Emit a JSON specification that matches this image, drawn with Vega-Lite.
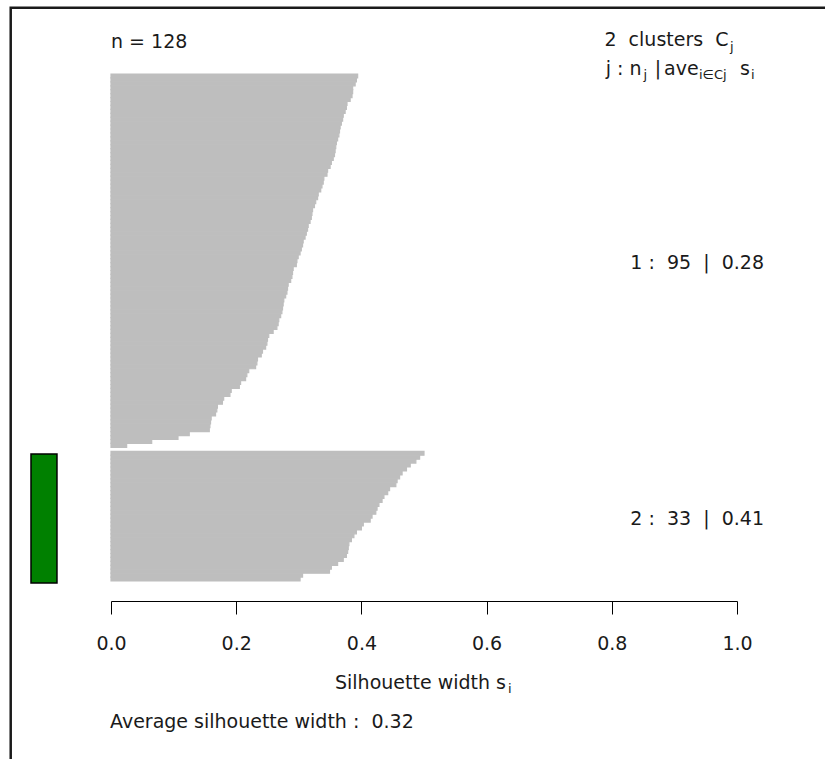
{
  "$schema": "https://vega.github.io/schema/vega-lite/v6.json",
  "width": 626,
  "height": 507,
  "autosize": {"type": "none"},
  "padding": {"left": 111, "top": 74, "right": 88, "bottom": 178},
  "background": "white",
  "config": {
    "view": {"stroke": null},
    "text": {"font": "DejaVu Sans", "fontSize": 19, "fill": "#1a1a1a", "baseline": "alphabetic"}
  },
  "datasets": {
    "silhouette": [
      {"row": 1, "cluster": 1, "s": 0.394}, {"row": 2, "cluster": 1, "s": 0.392}, {"row": 3, "cluster": 1, "s": 0.390},
      {"row": 4, "cluster": 1, "s": 0.386}, {"row": 5, "cluster": 1, "s": 0.386}, {"row": 6, "cluster": 1, "s": 0.385},
      {"row": 7, "cluster": 1, "s": 0.382}, {"row": 8, "cluster": 1, "s": 0.377}, {"row": 9, "cluster": 1, "s": 0.376},
      {"row": 10, "cluster": 1, "s": 0.374}, {"row": 11, "cluster": 1, "s": 0.371}, {"row": 12, "cluster": 1, "s": 0.370},
      {"row": 13, "cluster": 1, "s": 0.368}, {"row": 14, "cluster": 1, "s": 0.366}, {"row": 15, "cluster": 1, "s": 0.365},
      {"row": 16, "cluster": 1, "s": 0.364}, {"row": 17, "cluster": 1, "s": 0.362}, {"row": 18, "cluster": 1, "s": 0.360},
      {"row": 19, "cluster": 1, "s": 0.359}, {"row": 20, "cluster": 1, "s": 0.358}, {"row": 21, "cluster": 1, "s": 0.357},
      {"row": 22, "cluster": 1, "s": 0.355}, {"row": 23, "cluster": 1, "s": 0.352}, {"row": 24, "cluster": 1, "s": 0.350},
      {"row": 25, "cluster": 1, "s": 0.346}, {"row": 26, "cluster": 1, "s": 0.345}, {"row": 27, "cluster": 1, "s": 0.340},
      {"row": 28, "cluster": 1, "s": 0.339}, {"row": 29, "cluster": 1, "s": 0.337}, {"row": 30, "cluster": 1, "s": 0.335},
      {"row": 31, "cluster": 1, "s": 0.331}, {"row": 32, "cluster": 1, "s": 0.330}, {"row": 33, "cluster": 1, "s": 0.327},
      {"row": 34, "cluster": 1, "s": 0.325}, {"row": 35, "cluster": 1, "s": 0.322}, {"row": 36, "cluster": 1, "s": 0.321},
      {"row": 37, "cluster": 1, "s": 0.320}, {"row": 38, "cluster": 1, "s": 0.318}, {"row": 39, "cluster": 1, "s": 0.315},
      {"row": 40, "cluster": 1, "s": 0.314}, {"row": 41, "cluster": 1, "s": 0.312}, {"row": 42, "cluster": 1, "s": 0.310},
      {"row": 43, "cluster": 1, "s": 0.307}, {"row": 44, "cluster": 1, "s": 0.306}, {"row": 45, "cluster": 1, "s": 0.304},
      {"row": 46, "cluster": 1, "s": 0.302}, {"row": 47, "cluster": 1, "s": 0.299}, {"row": 48, "cluster": 1, "s": 0.297},
      {"row": 49, "cluster": 1, "s": 0.296}, {"row": 50, "cluster": 1, "s": 0.291}, {"row": 51, "cluster": 1, "s": 0.290},
      {"row": 52, "cluster": 1, "s": 0.289}, {"row": 53, "cluster": 1, "s": 0.287}, {"row": 54, "cluster": 1, "s": 0.283},
      {"row": 55, "cluster": 1, "s": 0.282}, {"row": 56, "cluster": 1, "s": 0.281}, {"row": 57, "cluster": 1, "s": 0.279},
      {"row": 58, "cluster": 1, "s": 0.276}, {"row": 59, "cluster": 1, "s": 0.275}, {"row": 60, "cluster": 1, "s": 0.274},
      {"row": 61, "cluster": 1, "s": 0.273}, {"row": 62, "cluster": 1, "s": 0.271}, {"row": 63, "cluster": 1, "s": 0.268},
      {"row": 64, "cluster": 1, "s": 0.267}, {"row": 65, "cluster": 1, "s": 0.265}, {"row": 66, "cluster": 1, "s": 0.259},
      {"row": 67, "cluster": 1, "s": 0.252}, {"row": 68, "cluster": 1, "s": 0.250}, {"row": 69, "cluster": 1, "s": 0.249},
      {"row": 70, "cluster": 1, "s": 0.247}, {"row": 71, "cluster": 1, "s": 0.242}, {"row": 72, "cluster": 1, "s": 0.240},
      {"row": 73, "cluster": 1, "s": 0.234}, {"row": 74, "cluster": 1, "s": 0.233}, {"row": 75, "cluster": 1, "s": 0.231},
      {"row": 76, "cluster": 1, "s": 0.220}, {"row": 77, "cluster": 1, "s": 0.217}, {"row": 78, "cluster": 1, "s": 0.215},
      {"row": 79, "cluster": 1, "s": 0.207}, {"row": 80, "cluster": 1, "s": 0.205}, {"row": 81, "cluster": 1, "s": 0.192},
      {"row": 82, "cluster": 1, "s": 0.190}, {"row": 83, "cluster": 1, "s": 0.180}, {"row": 84, "cluster": 1, "s": 0.178},
      {"row": 85, "cluster": 1, "s": 0.170}, {"row": 86, "cluster": 1, "s": 0.169}, {"row": 87, "cluster": 1, "s": 0.167},
      {"row": 88, "cluster": 1, "s": 0.160}, {"row": 89, "cluster": 1, "s": 0.159}, {"row": 90, "cluster": 1, "s": 0.158},
      {"row": 91, "cluster": 1, "s": 0.157}, {"row": 92, "cluster": 1, "s": 0.125}, {"row": 93, "cluster": 1, "s": 0.107},
      {"row": 94, "cluster": 1, "s": 0.065}, {"row": 95, "cluster": 1, "s": 0.025},
      {"row": 97, "cluster": 2, "s": 0.500}, {"row": 98, "cluster": 2, "s": 0.493}, {"row": 99, "cluster": 2, "s": 0.487},
      {"row": 100, "cluster": 2, "s": 0.478}, {"row": 101, "cluster": 2, "s": 0.472}, {"row": 102, "cluster": 2, "s": 0.465},
      {"row": 103, "cluster": 2, "s": 0.461}, {"row": 104, "cluster": 2, "s": 0.457}, {"row": 105, "cluster": 2, "s": 0.455},
      {"row": 106, "cluster": 2, "s": 0.445}, {"row": 107, "cluster": 2, "s": 0.442}, {"row": 108, "cluster": 2, "s": 0.436},
      {"row": 109, "cluster": 2, "s": 0.433}, {"row": 110, "cluster": 2, "s": 0.428}, {"row": 111, "cluster": 2, "s": 0.425},
      {"row": 112, "cluster": 2, "s": 0.423}, {"row": 113, "cluster": 2, "s": 0.417}, {"row": 114, "cluster": 2, "s": 0.414},
      {"row": 115, "cluster": 2, "s": 0.403}, {"row": 116, "cluster": 2, "s": 0.400}, {"row": 117, "cluster": 2, "s": 0.392},
      {"row": 118, "cluster": 2, "s": 0.388}, {"row": 119, "cluster": 2, "s": 0.384}, {"row": 120, "cluster": 2, "s": 0.380},
      {"row": 121, "cluster": 2, "s": 0.379}, {"row": 122, "cluster": 2, "s": 0.378}, {"row": 123, "cluster": 2, "s": 0.376},
      {"row": 124, "cluster": 2, "s": 0.371}, {"row": 125, "cluster": 2, "s": 0.362}, {"row": 126, "cluster": 2, "s": 0.352},
      {"row": 127, "cluster": 2, "s": 0.349}, {"row": 128, "cluster": 2, "s": 0.306}, {"row": 129, "cluster": 2, "s": 0.302}
    ]
  },
  "resolve": {"scale": {"y": "independent"}, "axis": {"x": "independent"}},
  "layer": [
    {
      "data": {"name": "silhouette"},
      "mark": {"type": "bar", "color": "#bebebe", "stroke": "#bebebe", "strokeWidth": 1.2},
      "encoding": {
        "x": {
          "field": "s", "type": "quantitative",
          "scale": {"domain": [0, 1], "nice": false},
          "axis": {
            "orient": "bottom", "offset": 20, "values": [0, 0.2, 0.4, 0.6, 0.8, 1], "format": ".1f",
            "tickSize": 13, "tickColor": "#000", "tickWidth": 1, "domainColor": "#000", "domainWidth": 1,
            "labelFont": "DejaVu Sans", "labelFontSize": 19, "labelColor": "#1a1a1a", "labelPadding": 20,
            "labelFlush": false, "labelOverlap": false, "grid": false, "title": null
          }
        },
        "y": {
          "field": "row", "type": "ordinal",
          "scale": {
            "domain": [1,2,3,4,5,6,7,8,9,10,11,12,13,14,15,16,17,18,19,20,21,22,23,24,25,26,27,28,29,30,31,32,33,34,35,36,37,38,39,40,41,42,43,44,45,46,47,48,49,50,51,52,53,54,55,56,57,58,59,60,61,62,63,64,65,66,67,68,69,70,71,72,73,74,75,76,77,78,79,80,81,82,83,84,85,86,87,88,89,90,91,92,93,94,95,96,97,98,99,100,101,102,103,104,105,106,107,108,109,110,111,112,113,114,115,116,117,118,119,120,121,122,123,124,125,126,127,128,129],
            "paddingInner": 0, "paddingOuter": 0
          },
          "axis": null
        }
      }
    },
    {
      "data": {"values": [{}]},
      "mark": {"type": "rect", "fillOpacity": 0, "stroke": "#1a1a1a", "strokeWidth": 2.5},
      "encoding": {
        "x": {"datum": -0.1602, "type": "quantitative", "scale": {"domain": [0, 1]}, "axis": null},
        "x2": {"datum": 2},
        "y": {"datum": -16.87, "type": "quantitative", "scale": {"domain": [0, 129], "reverse": true}, "axis": null},
        "y2": {"datum": 250}
      }
    },
    {
      "data": {"values": [{"cluster": 2}]},
      "mark": {"type": "rect", "fill": "#008000", "stroke": "#000", "strokeWidth": 1.5},
      "encoding": {
        "x": {"datum": -0.1278, "type": "quantitative", "scale": {"domain": [0, 1]}, "axis": null},
        "x2": {"datum": -0.0863},
        "y": {"datum": 96.7, "type": "quantitative", "scale": {"domain": [0, 129], "reverse": true}, "axis": null},
        "y2": {"datum": 129.5}
      }
    },
    {
      "data": {"values": [{"t": "n = 128"}]},
      "mark": {"type": "text", "align": "left"},
      "encoding": {
        "text": {"field": "t"},
        "x": {"datum": 0, "type": "quantitative", "scale": {"domain": [0, 1]}, "axis": null},
        "y": {"datum": -6.5, "type": "quantitative", "scale": {"domain": [0, 129], "reverse": true}, "axis": null}
      }
    },
    {
      "data": {"values": [{"t": "2\u00a0\u00a0clusters\u00a0\u00a0C"}]},
      "mark": {"type": "text", "align": "right"},
      "encoding": {
        "text": {"field": "t"},
        "x": {"datum": 0.9864, "type": "quantitative", "scale": {"domain": [0, 1]}, "axis": null},
        "y": {"datum": -7.0, "type": "quantitative", "scale": {"domain": [0, 129], "reverse": true}, "axis": null}
      }
    },
    {
      "data": {"values": [{"t": "j"}]},
      "mark": {"type": "text", "align": "left", "fontSize": 13},
      "encoding": {
        "text": {"field": "t"},
        "x": {"datum": 0.9888, "type": "quantitative", "scale": {"domain": [0, 1]}, "axis": null},
        "y": {"datum": -5.85, "type": "quantitative", "scale": {"domain": [0, 129], "reverse": true}, "axis": null}
      }
    },
    {
      "data": {"values": [{"t": "j : n"}]},
      "mark": {"type": "text", "align": "right"},
      "encoding": {
        "text": {"field": "t"},
        "x": {"datum": 0.8474, "type": "quantitative", "scale": {"domain": [0, 1]}, "axis": null},
        "y": {"datum": 0.25, "type": "quantitative", "scale": {"domain": [0, 129], "reverse": true}, "axis": null}
      }
    },
    {
      "data": {"values": [{"t": "j"}]},
      "mark": {"type": "text", "align": "left", "fontSize": 13},
      "encoding": {
        "text": {"field": "t"},
        "x": {"datum": 0.8506, "type": "quantitative", "scale": {"domain": [0, 1]}, "axis": null},
        "y": {"datum": 1.27, "type": "quantitative", "scale": {"domain": [0, 129], "reverse": true}, "axis": null}
      }
    },
    {
      "data": {"values": [{"t": "|"}]},
      "mark": {"type": "text", "align": "center"},
      "encoding": {
        "text": {"field": "t"},
        "x": {"datum": 0.8738, "type": "quantitative", "scale": {"domain": [0, 1]}, "axis": null},
        "y": {"datum": 0.25, "type": "quantitative", "scale": {"domain": [0, 129], "reverse": true}, "axis": null}
      }
    },
    {
      "data": {"values": [{"t": "ave"}]},
      "mark": {"type": "text", "align": "left"},
      "encoding": {
        "text": {"field": "t"},
        "x": {"datum": 0.8834, "type": "quantitative", "scale": {"domain": [0, 1]}, "axis": null},
        "y": {"datum": 0.25, "type": "quantitative", "scale": {"domain": [0, 129], "reverse": true}, "axis": null}
      }
    },
    {
      "data": {"values": [{"t": "i\u2208Cj"}]},
      "mark": {"type": "text", "align": "left", "fontSize": 13},
      "encoding": {
        "text": {"field": "t"},
        "x": {"datum": 0.9393, "type": "quantitative", "scale": {"domain": [0, 1]}, "axis": null},
        "y": {"datum": 1.27, "type": "quantitative", "scale": {"domain": [0, 129], "reverse": true}, "axis": null}
      }
    },
    {
      "data": {"values": [{"t": "s"}]},
      "mark": {"type": "text", "align": "left"},
      "encoding": {
        "text": {"field": "t"},
        "x": {"datum": 1.0048, "type": "quantitative", "scale": {"domain": [0, 1]}, "axis": null},
        "y": {"datum": 0.25, "type": "quantitative", "scale": {"domain": [0, 129], "reverse": true}, "axis": null}
      }
    },
    {
      "data": {"values": [{"t": "i"}]},
      "mark": {"type": "text", "align": "left", "fontSize": 13},
      "encoding": {
        "text": {"field": "t"},
        "x": {"datum": 1.0224, "type": "quantitative", "scale": {"domain": [0, 1]}, "axis": null},
        "y": {"datum": 1.27, "type": "quantitative", "scale": {"domain": [0, 129], "reverse": true}, "axis": null}
      }
    },
    {
      "data": {"values": [{"t": "1 :\u00a0\u00a095\u00a0\u00a0|\u00a0\u00a00.28"}]},
      "mark": {"type": "text", "align": "right"},
      "encoding": {
        "text": {"field": "t"},
        "x": {"datum": 1.0431, "type": "quantitative", "scale": {"domain": [0, 1]}, "axis": null},
        "y": {"datum": 49.5, "type": "quantitative", "scale": {"domain": [0, 129], "reverse": true}, "axis": null}
      }
    },
    {
      "data": {"values": [{"t": "2 :\u00a0\u00a033\u00a0\u00a0|\u00a0\u00a00.41"}]},
      "mark": {"type": "text", "align": "right"},
      "encoding": {
        "text": {"field": "t"},
        "x": {"datum": 1.0431, "type": "quantitative", "scale": {"domain": [0, 1]}, "axis": null},
        "y": {"datum": 114.8, "type": "quantitative", "scale": {"domain": [0, 129], "reverse": true}, "axis": null}
      }
    },
    {
      "data": {"values": [{"t": "Silhouette width s"}]},
      "mark": {"type": "text", "align": "left"},
      "encoding": {
        "text": {"field": "t"},
        "x": {"datum": 0.3578, "type": "quantitative", "scale": {"domain": [0, 1]}, "axis": null},
        "y": {"datum": 156.5, "type": "quantitative", "scale": {"domain": [0, 129], "reverse": true}, "axis": null}
      }
    },
    {
      "data": {"values": [{"t": "i"}]},
      "mark": {"type": "text", "align": "left", "fontSize": 13},
      "encoding": {
        "text": {"field": "t"},
        "x": {"datum": 0.6342, "type": "quantitative", "scale": {"domain": [0, 1]}, "axis": null},
        "y": {"datum": 157.5, "type": "quantitative", "scale": {"domain": [0, 129], "reverse": true}, "axis": null}
      }
    },
    {
      "data": {"values": [{"t": "Average silhouette width :\u00a0\u00a00.32"}]},
      "mark": {"type": "text", "align": "left"},
      "encoding": {
        "text": {"field": "t"},
        "x": {"datum": -0.0016, "type": "quantitative", "scale": {"domain": [0, 1]}, "axis": null},
        "y": {"datum": 166.4, "type": "quantitative", "scale": {"domain": [0, 129], "reverse": true}, "axis": null}
      }
    }
  ]
}
